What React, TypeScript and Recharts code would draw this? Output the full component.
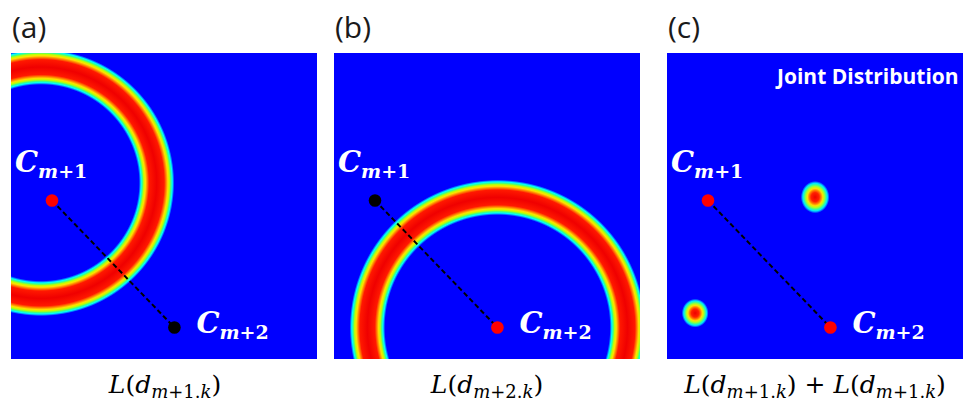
import React from 'react';
import { ScatterChart, Scatter, XAxis, YAxis, CartesianGrid } from 'recharts';

// ---------- data (domain 0..100 on both axes of each square panel) ----------
const panelTags = ['(a)', '(b)', '(c)'];
const centerNames = ['m+1', 'm+2'];
const centerX = [13.4, 53.4];
const centerY = [51.8, 10.3];
// ring of panel (a): likelihood of distance measured from C_{m+1}
const ringA = [{ x: 9.8, y: 57.6, r: 37.8, w: 5.8 }];
// ring of panel (b): likelihood of distance measured from C_{m+2}
const ringB = [{ x: 53.4, y: 10.3, r: 42.5, w: 5.8 }];
// joint distribution peaks of panel (c)
const jointPeaks = [
  { x: 48.4, y: 52.9, rx: 4.7, ry: 5.3 },
  { x: 9.2, y: 15.0, rx: 4.4, ry: 4.7 },
];
const formulaSubs = [['m+1.k'], ['m+2.k'], ['m+1.k', 'm+1.k']];
const jointTitle = 'Joint Distribution';

// ---------- styles ----------
const SIZE = 306;
const PX = SIZE / 100;
const BLUE = '#0000ff';
const PANEL_LEFT = [11, 334, 667];
const PANEL_TOP = 53;
const FORMULA_CX = [165, 487, 815];
const DOT_COLORS = [
  ['#ff0000', '#000000'],
  ['#000000', '#ff0000'],
  ['#ff0000', '#ff0000'],
];
const LABEL_OFF = [
  { dx: -37, dy: -28 },
  { dx: 22, dy: 6 },
];
const RING_PROFILE: [number, string][] = [
  [1.0, '#0000ff'],
  [0.94, '#0080ff'],
  [0.88, '#00ffff'],
  [0.8, '#40ff80'],
  [0.72, '#c0ff00'],
  [0.63, '#ffe000'],
  [0.53, '#ff8000'],
  [0.42, '#ff1800'],
  [0.0, '#f00000'],
];
const BLOB_PROFILE: [number, string][] = [
  [0, '#ee0000'],
  [0.28, '#ff2000'],
  [0.42, '#ff8000'],
  [0.53, '#ffe000'],
  [0.64, '#b0ff20'],
  [0.75, '#40ff90'],
  [0.85, '#00e8ff'],
  [0.93, '#0070ff'],
  [1, '#0000ff'],
];

const RingShape = (p: any) => {
  const { cx, cy, payload } = p;
  if (cx == null || cy == null) return <g />;
  const R = (payload.r + payload.w) * PX;
  const id = `ring-${String(payload.x).replace('.', '_')}-${String(payload.y).replace('.', '_')}`;
  const stops: { o: number; c: string }[] = [];
  RING_PROFILE.forEach(([t, c]) => stops.push({ o: (payload.r - t * payload.w) / (payload.r + payload.w), c }));
  [...RING_PROFILE]
    .reverse()
    .slice(1)
    .forEach(([t, c]) => stops.push({ o: (payload.r + t * payload.w) / (payload.r + payload.w), c }));
  return (
    <g>
      <defs>
        <radialGradient id={id} cx="50%" cy="50%" r="50%">
          {stops.map((s, i) => (
            <stop key={i} offset={s.o} stopColor={s.c} />
          ))}
        </radialGradient>
      </defs>
      <circle cx={cx} cy={cy} r={R} fill={`url(#${id})`} />
    </g>
  );
};

const BlobShape = (p: any) => {
  const { cx, cy, payload } = p;
  if (cx == null || cy == null) return <g />;
  return (
    <g>
      <defs>
        <radialGradient id="blobgrad" cx="50%" cy="50%" r="50%">
          {BLOB_PROFILE.map(([t, c], i) => (
            <stop key={i} offset={t} stopColor={c} />
          ))}
        </radialGradient>
      </defs>
      <ellipse cx={cx} cy={cy} rx={payload.rx * PX} ry={payload.ry * PX} fill="url(#blobgrad)" />
    </g>
  );
};

const makeDotShape = (i: number, color: string) => (p: any) => {
  const { cx, cy } = p;
  if (cx == null || cy == null) return <g />;
  const off = LABEL_OFF[i];
  return (
    <g>
      <circle cx={cx} cy={cy} r={6.3} fill={color} />
      <text x={cx + off.dx} y={cy + off.dy} fill="#ffffff" fontFamily="DejaVu Serif" fontWeight="bold">
        <tspan fontStyle="italic" fontSize={29}>C</tspan>
        <tspan fontStyle="italic" fontSize={19} dy={6}>{centerNames[i].slice(0, 1)}</tspan>
        <tspan fontSize={19}>{centerNames[i].slice(1)}</tspan>
      </text>
    </g>
  );
};

const Panel = ({ idx, rings, peaks }: { idx: number; rings?: any[]; peaks?: any[] }) => {
  const lineData = centerX.map((x, i) => ({ x, y: centerY[i] }));
  return (
    <div
      style={{
        position: 'absolute',
        left: PANEL_LEFT[idx],
        top: PANEL_TOP,
        width: SIZE,
        height: SIZE,
        overflow: 'hidden',
        outline: '1px solid #a0a4b0',
        outlineOffset: -1,
      }}
    >
      <ScatterChart width={SIZE} height={SIZE} margin={{ top: 0, right: 0, bottom: 0, left: 0 }}>
        <CartesianGrid horizontal={false} vertical={false} fill={BLUE} fillOpacity={1} stroke="none" />
        <XAxis type="number" dataKey="x" domain={[0, 100]} hide allowDataOverflow />
        <YAxis type="number" dataKey="y" domain={[0, 100]} hide allowDataOverflow />
        {rings && <Scatter data={rings} shape={(p: any) => <RingShape {...p} />} isAnimationActive={false} />}
        {peaks && <Scatter data={peaks} shape={(p: any) => <BlobShape {...p} />} isAnimationActive={false} />}
        <Scatter
          data={lineData}
          line={{ stroke: '#000000', strokeWidth: 2, strokeDasharray: '5 3' }}
          shape={() => <g />}
          isAnimationActive={false}
        />
        {centerX.map((x, i) => (
          <Scatter
            key={i}
            data={[{ x, y: centerY[i] }]}
            shape={makeDotShape(i, DOT_COLORS[idx][i])}
            isAnimationActive={false}
          />
        ))}
      </ScatterChart>
    </div>
  );
};

const Formula = ({ sub }: { sub: string }) => (
  <>
    <tspan fontStyle="italic">L</tspan>
    <tspan>(</tspan>
    <tspan fontStyle="italic">d</tspan>
    <tspan fontSize={18} dy={5} fontStyle="italic">{sub.slice(0, 1)}</tspan>
    <tspan fontSize={18}>{sub.slice(1, 4)}</tspan>
    <tspan fontSize={18} fontStyle="italic">{sub.slice(4)}</tspan>
    <tspan dy={-5}>)</tspan>
  </>
);

export default function App() {
  return (
    <div style={{ position: 'absolute', left: 0, top: 0, width: 963, height: 403, overflow: 'hidden', background: '#ffffff' }}>
      <Panel idx={0} rings={ringA} />
      <Panel idx={1} rings={ringB} />
      <Panel idx={2} peaks={jointPeaks} />
      <svg width={963} height={403} style={{ position: 'absolute', left: 0, top: 0, pointerEvents: 'none' }}>
        {panelTags.map((t, i) => (
          <text key={t} x={PANEL_LEFT[i] + 1} y={38} fontFamily="Open Sans" fontSize={30} fill="#1a1a1a">
            {t}
          </text>
        ))}
        {formulaSubs.map((subs, i) => (
          <text key={i} x={FORMULA_CX[i]} y={393} textAnchor="middle" fontFamily="DejaVu Serif" fontSize={25} fill="#000000">
            {subs.map((s, j) => (
              <React.Fragment key={j}>
                {j > 0 && <tspan>{'  +  '}</tspan>}
                <Formula sub={s} />
              </React.Fragment>
            ))}
          </text>
        ))}
        <text x={777} y={84} fontFamily="Open Sans" fontWeight="bold" fontSize={21} fill="#ffffff">
          {jointTitle}
        </text>
      </svg>
    </div>
  );
}
